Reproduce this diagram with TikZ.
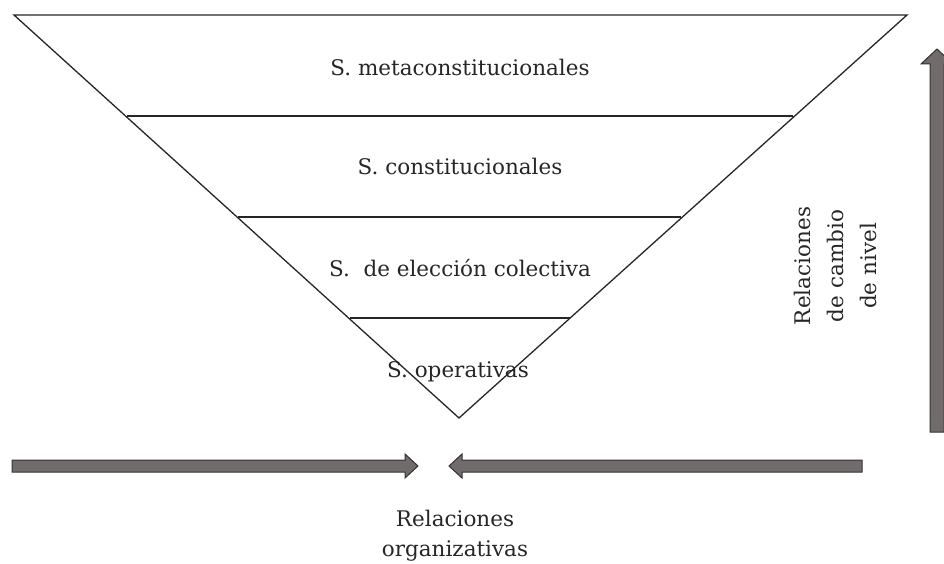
\documentclass[tikz,border=0pt]{standalone}
\usepackage{fontspec}
\setmainfont{DejaVu Serif}
\definecolor{arrfill}{HTML}{716C6B}
\definecolor{arrline}{HTML}{333333}
\begin{document}
\begin{tikzpicture}[x=1pt,y=-1pt,
  lvl/.style={font=\fontsize{21.5}{26}\selectfont, text=black!85, anchor=base, inner sep=0pt},
  lbl/.style={font=\fontsize{21.5}{26}\selectfont, text=black!85, anchor=base, inner sep=0pt},
  tri/.style={line width=1.3pt, black!85},
  fatarrow/.style={fill=arrfill, draw=arrline, line width=1pt, line join=miter}]
\useasboundingbox (0,0) rectangle (944,564);
\clip (0,0) rectangle (944,564);
% triangle
\coordinate (TL) at (14,15);
\coordinate (TR) at (907,15);
\coordinate (AP) at (459,418);
\draw[tri] (TL) -- (TR) -- (AP) -- cycle;
\coordinate (a1) at (127,116); \coordinate (b1) at (793,116);
\coordinate (a2) at (238,217); \coordinate (b2) at (681,217);
\coordinate (a3) at (350,318); \coordinate (b3) at (570,318);
\draw[tri] (a1) -- (b1);
\draw[tri] (a2) -- (b2);
\draw[tri] (a3) -- (b3);
\node[lvl] (l1) at (460,76) {S. metaconstitucionales};
\node[lvl] (l2) at (460,175) {S. constitucionales};
\node[lvl] (l3) at (460,276) {S.\ \ de elección colectiva};
\node[lvl] (l4) at (458,377) {S. operativas};
% vertical arrow
\draw[fatarrow] (930,432) -- (930,64) -- (921,64) -- (937,49) -- (953,64) -- (944,64) -- (944,432) -- cycle;
\node[lbl, rotate=90] (rc1) at (810,266) {Relaciones};
\node[lbl, rotate=90] (rc2) at (843,266) {de cambio};
\node[lbl, rotate=90] (rc3) at (876,266) {de nivel};
% horizontal arrows
\draw[fatarrow] (12,460) -- (405,460) -- (405,454) -- (418,466) -- (405,478) -- (405,472) -- (12,472) -- cycle;
\draw[fatarrow] (862,460) -- (462,460) -- (462,454) -- (449,466) -- (462,478) -- (462,472) -- (862,472) -- cycle;
\node[lbl] (ro1) at (455,526) {Relaciones};
\node[lbl] (ro2) at (455,556) {organizativas};
\end{tikzpicture}
\end{document}
